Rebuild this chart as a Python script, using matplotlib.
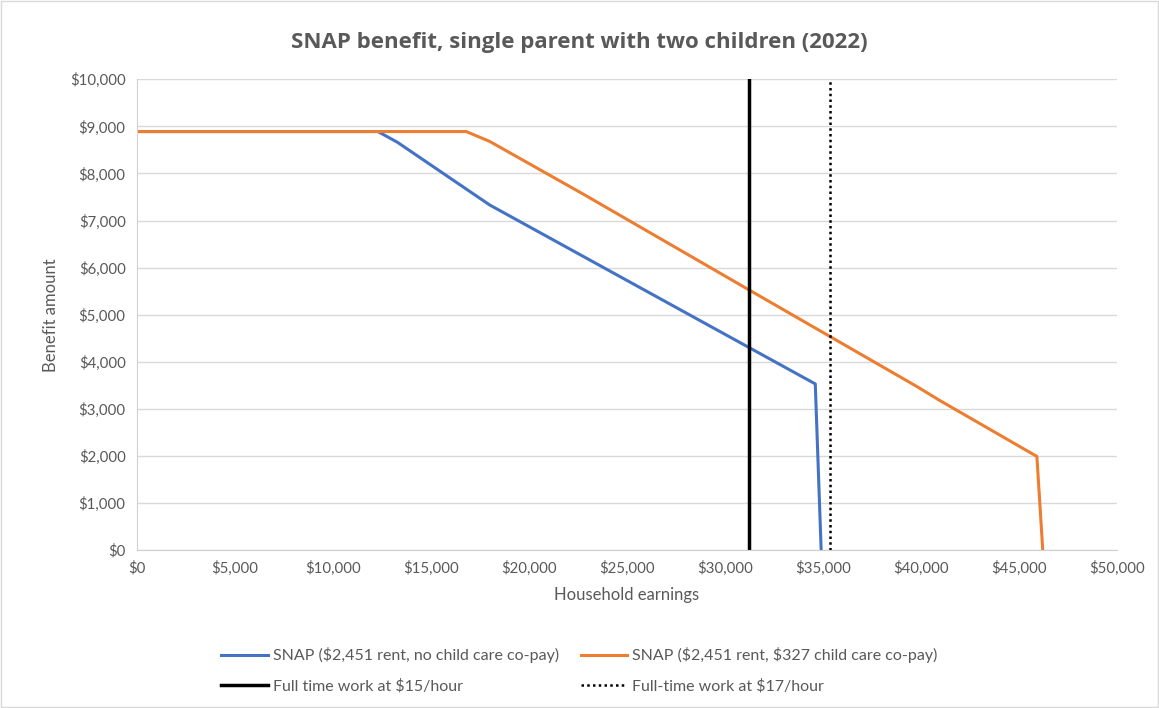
import matplotlib.pyplot as plt
from matplotlib.ticker import FuncFormatter

plt.rcParams['font.family'] = ['Lato', 'DejaVu Sans']

# SNAP benefit by household earnings
earn_blue = [0, 12300, 13300, 18000, 28700, 34600, 34900]
snap_blue = [8890, 8890, 8660, 7330, 4880, 3530, 0]

earn_orange = [0, 16800, 18000, 22900, 31000, 39800, 40900, 45900, 46200]
snap_orange = [8890, 8890, 8680, 7530, 5580, 3470, 3190, 1990, 0]

wage15 = 31200   # full time at $15/hour
wage17 = 35360   # full time at $17/hour

gray = '#595959'

fig = plt.figure(figsize=(11.59, 7.08), dpi=100)
ax = fig.add_axes([0.118, 0.223, 0.846, 0.665])

l1, = ax.plot(earn_blue, snap_blue, color='#4472C4', lw=2.2,
              label='SNAP (\\$2,451 rent, no child care co-pay)')
l2, = ax.plot(earn_orange, snap_orange, color='#ED7D31', lw=2.2,
              label='SNAP (\\$2,451 rent, \\$327 child care co-pay)')
l3, = ax.plot([wage15, wage15], [0, 10000], color='black', lw=2.5,
              label='Full time work at \\$15/hour')
l4, = ax.plot([wage17, wage17], [0, 10000], color='black', lw=1.8, linestyle=(0, (1, 1.3)),
              label='Full-time work at \\$17/hour')

ax.set_xlim(0, 50000)
ax.set_ylim(0, 10000)
ax.set_xticks(range(0, 50001, 5000))
ax.set_yticks(range(0, 10001, 1000))
money = FuncFormatter(lambda v, p: '${:,.0f}'.format(v))
ax.xaxis.set_major_formatter(money)
ax.yaxis.set_major_formatter(money)
ax.tick_params(colors=gray, labelsize=10.8, length=0, pad=8)
ax.grid(axis='y', color='#d9d9d9', lw=1)
ax.set_axisbelow(True)
for s in ['top', 'right']:
    ax.spines[s].set_visible(False)
for s in ['left', 'bottom']:
    ax.spines[s].set_color('#d0d0d0')

ax.set_xlabel('Household earnings', color=gray, fontsize=12, labelpad=8)
ax.set_ylabel('Benefit amount', color=gray, fontsize=12, labelpad=8)
fig.text(0.5, 0.94, 'SNAP benefit, single parent with two children (2022)',
         ha='center', va='center', fontsize=16, fontweight='bold', color=gray,
         family=['Open Sans', 'DejaVu Sans'])

# column-first fill, so order handles to read row by row
fig.legend([l1, l3, l2, l4], [l1.get_label(), l3.get_label(), l2.get_label(), l4.get_label()],
           loc='lower center', bbox_to_anchor=(0.5, 0.0), ncol=2, frameon=False,
           fontsize=11.5, handlelength=2.9, handletextpad=0.3, columnspacing=1.4,
           labelspacing=1.0, labelcolor=gray)

fig.patches.append(plt.Rectangle((0.001, 0.001), 0.998, 0.998, transform=fig.transFigure,
                                 fill=False, edgecolor='#d9d9d9', lw=1))

fig.savefig('out.png', dpi=100)
